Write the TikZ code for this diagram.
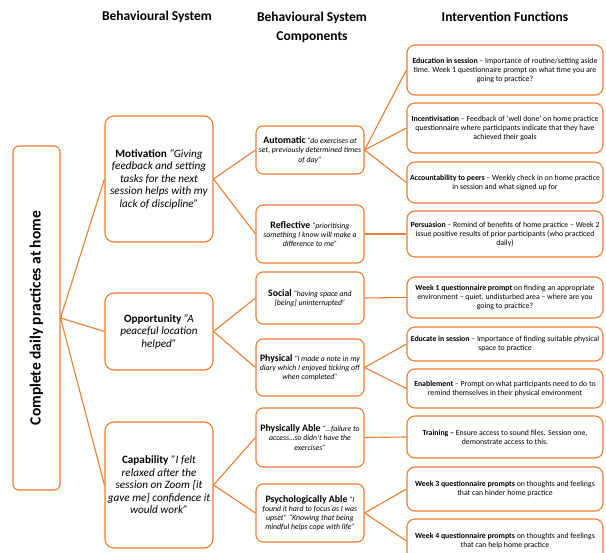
\documentclass[tikz,border=0pt]{standalone}
\usepackage{fontspec}
\setmainfont{Carlito}
\definecolor{boxorange}{HTML}{ED7D31}
\tikzset{
	headtxt/.style={font=\fontsize{13.5}{19}\selectfont\bfseries, align=center, inner sep=0pt},
	goalbox/.style={draw=boxorange, line width=1.1pt, rounded corners=6pt, minimum width=47pt, minimum height=344pt, inner sep=0pt},
	sysbox/.style={draw=boxorange, line width=1.1pt, rounded corners=9pt, minimum width=108pt, align=center, inner sep=2pt, font=\fontsize{11.2}{12.5}\selectfont},
	compbox/.style={draw=boxorange, line width=1.1pt, rounded corners=7pt, minimum width=108pt, align=center, inner sep=2pt, font=\fontsize{7.8}{9.2}\selectfont},
	funcbox/.style={draw=boxorange, line width=1.1pt, rounded corners=8pt, minimum width=196pt, align=center, inner sep=2pt, font=\fontsize{7.8}{9}\selectfont},
	link/.style={draw=boxorange, line width=1.1pt}
}
\newcommand{\cname}[1]{\textbf{\fontsize{9.8}{9.2}\selectfont #1}}

\begin{document}
\begin{tikzpicture}[x=1pt, y=-1pt]
	%%%%% START %%%%%
	\useasboundingbox (0,0) rectangle (606,553);
	
	% column headings
	\node[headtxt] (hsys) at (157,17) {Behavioural System};
	\node[headtxt] (hcomp) at (312,27.5) {Behavioural System\\Components};
	\node[headtxt] (hfunc) at (505,17) {Intervention Functions};
	
	% goal
	\node[goalbox] (goal) at (36.5,318) {};
	\node[rotate=90, font=\fontsize{15.5}{17}\selectfont\bfseries] (goaltxt) at (goal.center) {Complete daily practices at home};
	
	% behavioural system
	\node[sysbox, minimum height=126pt] (motiv) at (159,179) {\textbf{Motivation} \textit{“Giving}\\\textit{feedback and setting}\\\textit{tasks for the next}\\\textit{session helps with my}\\\textit{lack of discipline”}};
	\node[sysbox, minimum height=77pt] (oppor) at (159,331.5) {\textbf{Opportunity} \textit{"A}\\\textit{peaceful location}\\\textit{helped"}};
	\node[sysbox, minimum height=126pt] (capab) at (159,485) {\textbf{Capability} \textit{"I felt}\\\textit{relaxed after the}\\\textit{session on Zoom [it}\\\textit{gave me] confidence it}\\\textit{would work"}};
	
	% components
	\node[compbox, minimum height=48pt] (autom) at (310,150) {\cname{Automatic} \textit{“do exercises at}\\\textit{set, previously determined times}\\\textit{of day”}};
	\node[compbox, minimum height=58pt] (refl) at (310,234) {\cname{Reflective} \textit{“prioritising}\\\textit{something I know will make a}\\\textit{difference to me”}};
	\node[compbox, minimum height=52pt] (social) at (310,298) {\cname{Social} \textit{“having space and}\\\textit{[being] uninterrupted”}};
	\node[compbox, minimum height=57pt] (phys) at (310,367.5) {\cname{Physical} \textit{“I made a note in my}\\\textit{diary which I enjoyed ticking off}\\\textit{when completed”}};
	\node[compbox, minimum height=59pt] (physable) at (310,437.5) {\cname{Physically Able} \textit{“…failure to}\\\textit{access…so didn’t have the}\\\textit{exercises”}};
	\node[compbox, minimum height=58pt] (psychable) at (310,513) {\cname{Psychologically Able} \textit{“I}\\\textit{found it hard to focus as I was}\\\textit{upset” “Knowing that being}\\\textit{mindful helps cope with life”}};
	
	% intervention functions
	\node[funcbox, minimum height=50pt] (educ) at (505,70) {\textbf{Education in session} – Importance of routine/setting aside\\time. Week 1 questionnaire prompt on what time you are\\going to practice?};
	\node[funcbox, minimum height=50pt] (incent) at (505,128) {\textbf{Incentivisation} – Feedback of ‘well done’ on home practice\\questionnaire where participants indicate that they have\\achieved their goals};
	\node[funcbox, minimum height=41pt] (account) at (505,182.5) {\textbf{Accountability to peers} – Weekly check in on home practice\\in session and what signed up for};
	\node[funcbox, minimum height=46pt] (persua) at (505,234) {\textbf{Persuasion} – Remind of benefits of home practice – Week 2\\issue positive results of prior participants (who practiced\\daily)};
	\node[funcbox, minimum height=41pt] (weekone) at (505,297.5) {\textbf{Week 1 questionnaire prompt} on finding an appropriate\\environment – quiet, undisturbed area – where are you\\going to practice?};
	\node[funcbox, minimum height=34pt] (educsess) at (505,344) {\textbf{Educate in session} – Importance of finding suitable physical\\space to practice};
	\node[funcbox, minimum height=39pt] (enable) at (505,388.5) {\textbf{Enablement} – Prompt on what participants need to do to\\remind themselves in their physical environment};
	\node[funcbox, minimum height=42pt] (train) at (505,437) {\textbf{Training –} Ensure access to sound files. Session one,\\demonstrate access to this.};
	\node[funcbox, minimum height=44pt] (weekthree) at (505,489) {\textbf{Week 3 questionnaire prompts} on thoughts and feelings\\that can hinder home practice};
	\node[funcbox, minimum height=44pt] (weekfour) at (505,541) {\textbf{Week 4 questionnaire prompts} on thoughts and feelings\\that can help home practice};
	
	% connectors
	\draw[link] (goal.east) -- (motiv.west);
	\draw[link] (goal.east) -- (oppor.west);
	\draw[link] (goal.east) -- (capab.west);
	
	\draw[link] (motiv.east) -- (autom.west);
	\draw[link] (motiv.east) -- (refl.west);
	\draw[link] (oppor.east) -- (social.west);
	\draw[link] (oppor.east) -- (phys.west);
	\draw[link] (capab.east) -- (physable.west);
	\draw[link] (capab.east) -- (psychable.west);
	
	\draw[link] (autom.east) -- (educ.west);
	\draw[link] (autom.east) -- (incent.west);
	\draw[link] (autom.east) -- (account.west);
	\draw[link] (refl.east) -- (persua.west);
	\draw[link] (social.east) -- (weekone.west);
	\draw[link] (phys.east) -- (educsess.west);
	\draw[link] (phys.east) -- (enable.west);
	\draw[link] (physable.east) -- (train.west);
	\draw[link] (psychable.east) -- (weekthree.west);
	\draw[link] (psychable.east) -- (weekfour.west);
	%%%%% END %%%%%
\end{tikzpicture}
\end{document}
